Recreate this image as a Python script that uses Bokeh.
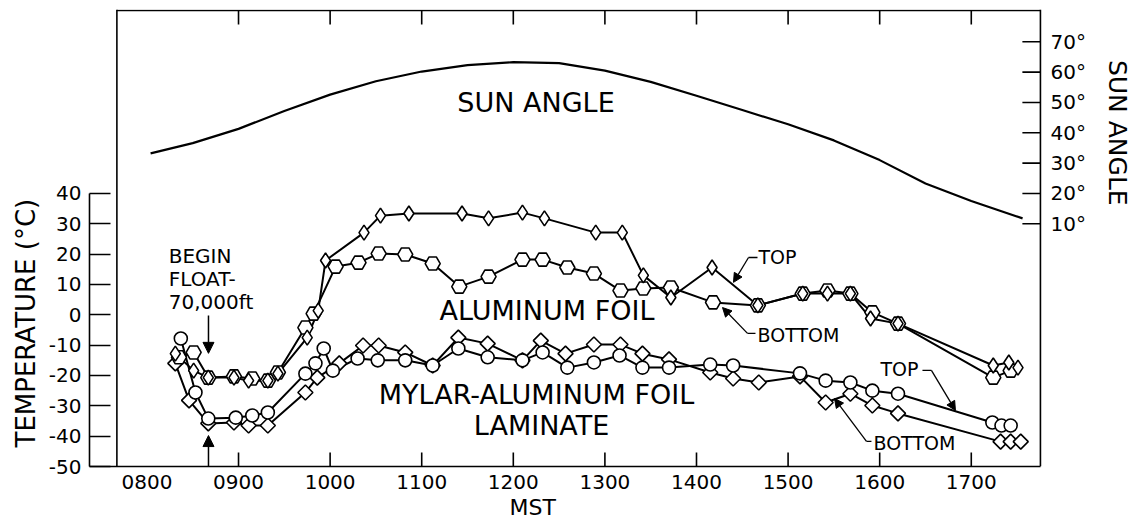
import math
from bokeh.plotting import figure
from bokeh.models import (Range1d, FixedTicker, Span, Label, Arrow, NormalHead,
                          Title)
from bokeh.core.properties import value
from bokeh.embed import file_html
from bokeh.resources import INLINE

FONT = "DejaVu Sans"

# ---- data (time in decimal hours MST, temperature in deg C, sun angle in deg) ----
SUN_HR = [8.04, 8.50, 9.00, 9.50, 10.00, 10.50, 11.00, 11.50, 12.00, 12.50,
          13.00, 13.50, 14.00, 14.50, 15.00, 15.50, 16.00, 16.50, 17.00, 17.56]
SUN_DEG = [33.2, 36.6, 41.3, 47.2, 52.6, 57.0, 60.2, 62.3, 63.3, 63.0,
           60.5, 56.8, 52.2, 47.5, 42.8, 37.5, 31.0, 23.3, 17.5, 11.8]

# aluminum foil, top surface (diamonds)
AL_TOP_HR = [8.31, 8.51, 8.67, 8.95, 9.11, 9.32, 9.43, 9.75, 9.87, 9.95,
             10.37, 10.55, 10.86, 11.44, 11.73, 12.10, 12.34, 12.90, 13.19,
             13.42, 13.72, 14.17, 14.67, 15.16, 15.43, 15.68, 15.90, 16.20,
             17.24, 17.41, 17.51]
AL_TOP_C = [-12.8, -18.4, -20.7, -20.7, -21.7, -21.7, -19.4, -7.5, 1.4, 17.9,
            27.1, 32.7, 33.4, 33.4, 31.8, 33.7, 31.8, 27.1, 27.1,
            13.0, 5.7, 15.6, 3.1, 7.0, 7.0, 7.0, -1.2, -2.9,
            -16.7, -15.7, -17.4]

# aluminum foil, bottom surface (hexagons)
AL_BOT_HR = [8.35, 8.51, 8.67, 8.95, 9.15, 9.32, 9.43, 9.73, 9.82, 10.06,
             10.31, 10.53, 10.82, 11.12, 11.41, 11.73, 12.10, 12.32, 12.59,
             12.88, 13.17, 13.42, 13.72, 14.18, 14.67, 15.16, 15.43, 15.68,
             15.92, 16.20, 17.24, 17.43]
AL_BOT_C = [-14.0, -12.4, -20.7, -20.3, -21.0, -21.7, -19.0, -4.2, 0.4, 15.9,
            17.2, 20.2, 19.9, 16.9, 9.3, 12.6, 18.2, 18.2, 15.6,
            13.6, 8.0, 8.7, 9.0, 4.1, 3.1, 7.0, 8.0, 7.0,
            0.8, -2.9, -20.7, -18.4]

# mylar-aluminum foil laminate, top surface (circles)
ML_TOP_HR = [8.37, 8.53, 8.67, 8.97, 9.15, 9.32, 9.73, 9.84, 9.93, 10.03,
             10.30, 10.52, 10.82, 11.12, 11.40, 11.72, 12.10, 12.32, 12.59,
             12.88, 13.16, 13.41, 13.70, 14.15, 14.40, 15.13, 15.41, 15.68,
             15.92, 16.20, 17.23, 17.33, 17.43]
ML_TOP_C = [-7.8, -25.6, -34.2, -33.9, -33.2, -32.2, -19.4, -16.0, -11.1, -18.4,
            -14.4, -15.0, -15.0, -16.7, -11.1, -14.0, -15.0, -12.4, -17.4,
            -15.7, -13.4, -17.4, -17.4, -16.4, -16.7, -19.3, -21.7, -22.3,
            -25.0, -26.0, -35.5, -36.5, -36.5]

# mylar-aluminum foil laminate, bottom surface (squares on edge)
ML_BOT_HR = [8.31, 8.46, 8.67, 8.95, 9.11, 9.32, 9.73, 9.86, 10.10, 10.36,
             10.53, 10.82, 11.12, 11.40, 11.72, 12.10, 12.30, 12.57, 12.88,
             13.17, 13.41, 13.70, 14.15, 14.40, 14.68, 15.13, 15.41, 15.68,
             15.92, 16.20, 17.32, 17.43, 17.54]
ML_BOT_C = [-16.0, -28.2, -35.8, -35.5, -36.5, -36.5, -25.6, -20.7, -16.0, -10.1,
            -10.1, -12.4, -16.7, -7.5, -9.5, -15.0, -8.5, -12.8, -9.8,
            -9.8, -12.8, -14.7, -19.0, -21.0, -22.3, -20.3, -28.9, -26.0,
            -29.9, -32.5, -41.8, -41.8, -41.8]

HOUR_LABEL_TICKS = [8, 9, 10, 11, 12, 13, 14, 15, 16, 17]
HOUR_LABELS = ["0800", "0900", "1000", "1100", "1200", "1300", "1400",
               "1500", "1600", "1700"]
HOUR_MARKS = [9, 10, 11, 12, 13, 14, 15, 16, 17]
TEMP_TICKS = [-50, -40, -30, -20, -10, 0, 10, 20, 30, 40]
TEMP_LABELS = ["-50", "-40", "-30", "-20", "-10", "0", "10", "20", "30", "40"]
SUN_TICKS = [10, 20, 30, 40, 50, 60, 70]
SUN_LABELS = ["10°", "20°", "30°", "40°", "50°", "60°", "70°"]

# frame spans the canvas to the right; the boxed area ends at BOX_RIGHT
X_START, X_END = 7.373, 18.782
Y_START, Y_END = -50.0, 100.65
SUN_OFFSET = 20.0          # sun-angle scale shares the temperature pixel scale
BOX_LEFT, BOX_RIGHT, BOX_TOP = 7.672, 17.755, 100.32
TICK_LEN = 4.6             # inward hour tick length (temperature units)
SUN_TICK_LEN = 0.197       # inward sun-angle tick length (hours)

p = figure(width=1134, height=522, output_backend="svg", toolbar_location=None,
           x_range=Range1d(X_START, X_END), y_range=Range1d(Y_START, Y_END),
           min_border_left=89, min_border_right=0, min_border_top=9,
           min_border_bottom=56, background_fill_color="white",
           border_fill_color="white")
p.extra_y_ranges = {"sun": Range1d(Y_START - SUN_OFFSET, Y_END - SUN_OFFSET)}
p.outline_line_color = None
p.xgrid.visible = False
p.ygrid.visible = False


def style_axis(ax, size="20px"):
    ax.axis_line_color = "black"
    ax.axis_line_width = 1.6
    ax.major_tick_line_color = "black"
    ax.major_tick_line_width = 1.6
    ax.minor_tick_line_color = None
    ax.major_tick_out = 0
    ax.major_label_text_font = FONT
    ax.major_label_text_font_size = size
    ax.major_label_text_color = "black"


# bottom time axis (labels only; inward ticks drawn below)
xb = p.xaxis[0]
style_axis(xb)
xb.ticker = FixedTicker(ticks=HOUR_LABEL_TICKS)
xb.major_label_overrides = dict(zip(HOUR_LABEL_TICKS, HOUR_LABELS))
xb.bounds = (X_START, BOX_RIGHT)
xb.major_tick_in = 0
xb.major_tick_line_color = None
xb.major_label_standoff = 8

# left temperature axis
yl = p.yaxis[0]
style_axis(yl)
yl.ticker = FixedTicker(ticks=TEMP_TICKS)
yl.major_label_overrides = dict(zip(TEMP_TICKS, TEMP_LABELS))
yl.bounds = (TEMP_TICKS[0], TEMP_TICKS[-1])
yl.major_tick_in = 21
yl.major_label_standoff = 8

# axis titles outside the frame
p.add_layout(Title(text="TEMPERATURE (°C)", align="left", offset=19, standoff=10,
                   text_font=FONT, text_font_size="26px", text_font_style="normal",
                   text_color="black"), "left")
p.add_layout(Title(text="MST", align="left", offset=420, standoff=2,
                   text_font=FONT, text_font_size="22px", text_font_style="normal",
                   text_color="black"), "below")

# box sides and top
for loc in (BOX_LEFT, BOX_RIGHT):
    p.add_layout(Span(location=loc, dimension="height", line_color="black",
                      line_width=1.6))
p.segment(x0=BOX_LEFT, y0=BOX_TOP, x1=BOX_RIGHT, y1=BOX_TOP,
          line_color="black", line_width=1.6)

# inward hour ticks on the top and bottom edges
n = len(HOUR_MARKS)
p.segment(x0=HOUR_MARKS, y0=[BOX_TOP] * n, x1=HOUR_MARKS,
          y1=[BOX_TOP - TICK_LEN] * n, line_color="black", line_width=1.6)
p.segment(x0=HOUR_MARKS, y0=[Y_START] * n, x1=HOUR_MARKS,
          y1=[Y_START + TICK_LEN] * n, line_color="black", line_width=1.6)

# sun-angle scale on the right edge of the box
m = len(SUN_TICKS)
p.segment(x0=[BOX_RIGHT] * m, y0=SUN_TICKS, x1=[BOX_RIGHT - SUN_TICK_LEN] * m,
          y1=SUN_TICKS, y_range_name="sun", line_color="black", line_width=1.6)
p.text(x=[BOX_RIGHT] * m, y=SUN_TICKS, text=SUN_LABELS, y_range_name="sun",
       x_offset=10, text_font=value(FONT), text_font_size="20px",
       text_align="left", text_baseline="middle", text_color="black")
p.add_layout(Label(x=BOX_RIGHT, y=40, y_range_name="sun", x_offset=77,
                   text="SUN ANGLE", angle=-math.pi / 2, text_font=FONT,
                   text_font_size="25px", text_align="center",
                   text_baseline="middle", text_color="black"))

# sun angle curve
p.line(SUN_HR, SUN_DEG, y_range_name="sun", line_color="black", line_width=2.2)

# connecting lines
for xs, ys in ((AL_TOP_HR, AL_TOP_C), (AL_BOT_HR, AL_BOT_C),
               (ML_TOP_HR, ML_TOP_C), (ML_BOT_HR, ML_BOT_C)):
    p.line(xs, ys, line_color="black", line_width=2)

MK = dict(fill_color="white", line_color="black", line_width=1.6)
p.scatter(ML_BOT_HR, ML_BOT_C, marker="square", size=10.6, angle=0.7854, **MK)
p.scatter(ML_TOP_HR, ML_TOP_C, marker="circle", size=13, **MK)
p.scatter(AL_BOT_HR, AL_BOT_C, marker="hex", size=15, **MK)
p.scatter(AL_TOP_HR, AL_TOP_C, marker="diamond", size=15, **MK)


def label(x, y, text, size="27px", align="center"):
    p.add_layout(Label(x=x, y=y, text=text, text_font=FONT, text_font_size=size,
                       text_align=align, text_baseline="middle",
                       text_color="black"))


label(12.248, 70.0, "SUN ANGLE")
label(12.368, 1.4, "ALUMINUM FOIL")
label(12.253, -26.2, "MYLAR-ALUMINUM FOIL")
label(12.308, -36.5, "LAMINATE")
label(8.238, 19.4, "BEGIN", size="20px", align="left")
label(8.238, 11.8, "FLOAT-", size="20px", align="left")
label(8.238, 4.2, "70,000ft", size="20px", align="left")
label(14.677, 19.2, "TOP", size="19px", align="left")
label(14.666, -6.6, "BOTTOM", size="19px", align="left")
label(16.008, -17.8, "TOP", size="19px", align="left")
label(15.932, -42.4, "BOTTOM", size="19px", align="left")

# leader lines: (stub start, elbow, arrow tip)
LEADERS = [
    ((14.666, 18.9), (14.568, 18.9), (14.404, 10.7)),
    ((14.644, -6.1), (14.557, -6.1), (14.284, 2.4)),
    ((16.467, -18.3), (16.565, -18.3), (16.827, -31.5)),
    ((15.910, -41.7), (15.856, -41.7), (15.507, -27.6)),
]
for a, b, tip in LEADERS:
    p.line([a[0], b[0]], [a[1], b[1]], line_color="black", line_width=1.3)
    p.add_layout(Arrow(end=NormalHead(size=9, fill_color="black", line_color="black"),
                       x_start=b[0], y_start=b[1], x_end=tip[0], y_end=tip[1],
                       line_color="black", line_width=1.3))

# begin-float markers
FLOAT_HR = 8.672
p.add_layout(Arrow(end=NormalHead(size=11, fill_color="black", line_color="black"),
                   x_start=FLOAT_HR, y_start=-0.2, x_end=FLOAT_HR, y_end=-12.7,
                   line_color="black", line_width=1.5))
p.add_layout(Arrow(end=NormalHead(size=11, fill_color="black", line_color="black"),
                   x_start=FLOAT_HR, y_start=-50, x_end=FLOAT_HR, y_end=-39.8,
                   line_color="black", line_width=1.5))

open("out.html", "w").write(file_html(p, INLINE))
